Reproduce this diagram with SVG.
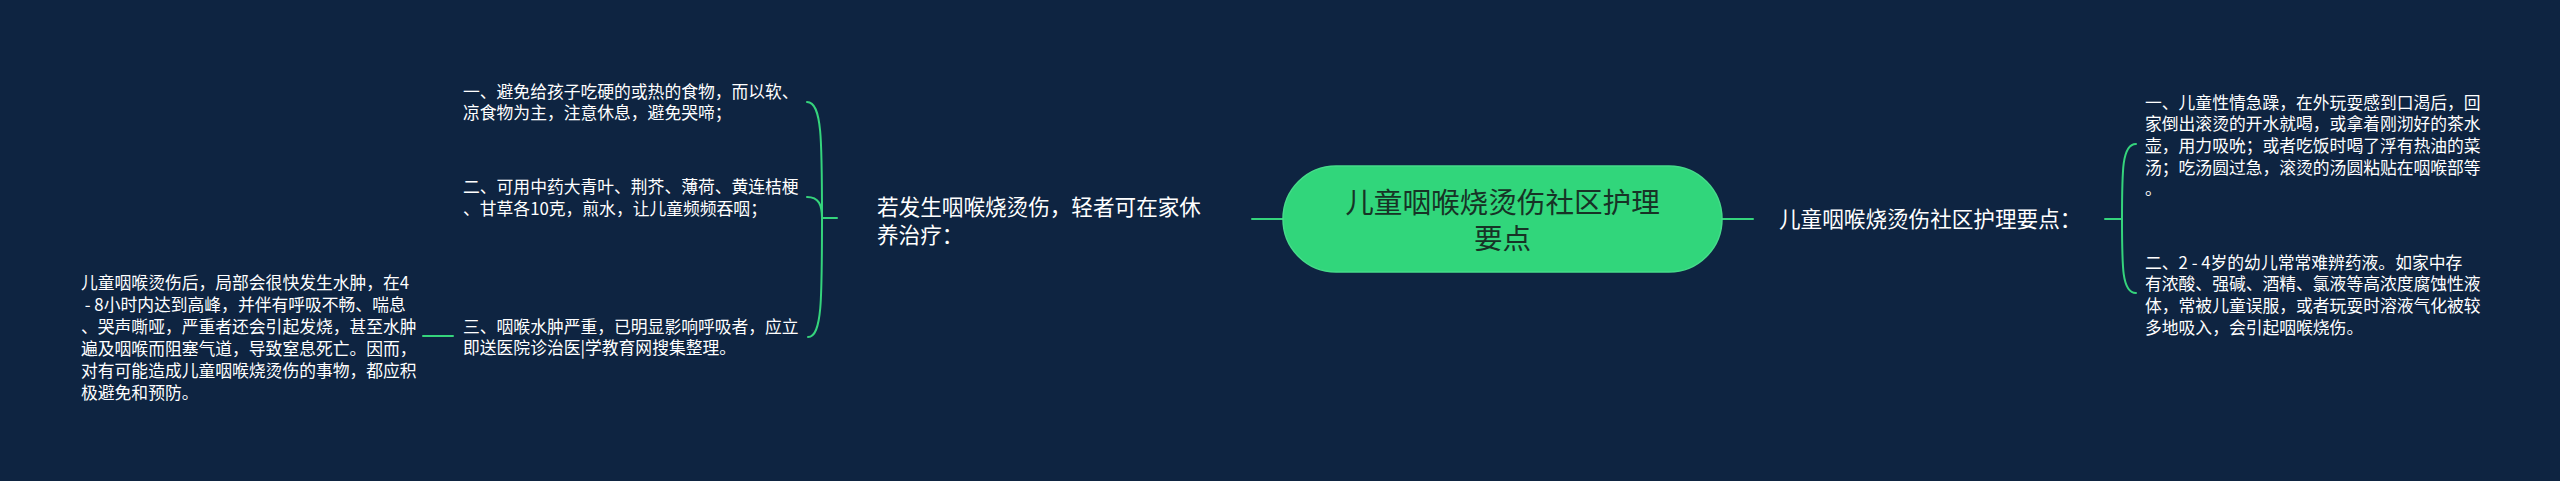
<svg xmlns="http://www.w3.org/2000/svg" width="2560" height="481" viewBox="0 0 2560 481">
<style>
.bg{fill:#0e2441}
.c{fill:none;stroke:#35d47c;stroke-width:2;stroke-linecap:round}
.t{font-family:"Microsoft YaHei","Noto Sans CJK SC","Noto Sans",sans-serif;fill:#ffffff}
.leaf{font-size:16.8px}
.mid{font-size:21.6px}
.main{font-size:28.6px;fill:#173326;text-anchor:middle}
</style>
<rect class="bg" x="0" y="0" width="2560" height="481"/>
<g id="connectors">
<path class="c" d="M1252 219 L1283 219"/>
<path class="c" d="M1722 219 L1753 219"/>
<path class="c" d="M837 218 L822 218"/>
<path class="c" d="M822 218 C822 140 822 102 807 102"/>
<path class="c" d="M822 218 C822 205 819 197 807 197"/>
<path class="c" d="M822 218 C822 300 822 337 808 337"/>
<path class="c" d="M453 336 L423 336"/>
<path class="c" d="M2105 219 L2122 219"/>
<path class="c" d="M2122 219 C2122 170 2122 144 2136 144"/>
<path class="c" d="M2122 219 C2122 268 2122 293 2136 293"/>
</g>
<g id="node-center">
<rect x="1283" y="166" width="439" height="106" rx="53" fill="#31d67b" stroke="#45dc8a" stroke-width="1.5"/>
<text class="t main" x="1502.5" y="213">儿童咽喉烧烫伤社区护理</text>
<text class="t main" x="1502.5" y="249">要点</text>
</g>
<g id="node-left">
<text class="t mid" x="877" y="215">若发生咽喉烧烫伤，轻者可在家休</text>
<text class="t mid" x="877" y="243">养治疗：</text>
</g>
<g id="node-left-1">
<text class="t leaf" x="463" y="98">一、避免给孩子吃硬的或热的食物，而以软、</text>
<text class="t leaf" x="463" y="119">凉食物为主，注意休息，避免哭啼；</text>
</g>
<g id="node-left-2">
<text class="t leaf" x="463" y="193">二、可用中药大青叶、荆芥、薄荷、黄连桔梗</text>
<text class="t leaf" x="463" y="215">、甘草各10克，煎水，让儿童频频吞咽；</text>
</g>
<g id="node-left-3">
<text class="t leaf" x="463" y="333">三、咽喉水肿严重，已明显影响呼吸者，应立</text>
<text class="t leaf" x="463" y="354">即送医院诊治医|学教育网搜集整理。</text>
</g>
<g id="node-left-3-1">
<text class="t leaf" x="81" y="288.5">儿童咽喉烫伤后，局部会很快发生水肿，在4</text>
<text class="t leaf" x="81" y="310.5" xml:space="preserve"> - 8小时内达到高峰，并伴有呼吸不畅、喘息</text>
<text class="t leaf" x="81" y="332.5">、哭声嘶哑，严重者还会引起发烧，甚至水肿</text>
<text class="t leaf" x="81" y="354.5">遍及咽喉而阻塞气道，导致窒息死亡。因而，</text>
<text class="t leaf" x="81" y="376.5">对有可能造成儿童咽喉烧烫伤的事物，都应积</text>
<text class="t leaf" x="81" y="399">极避免和预防。</text>
</g>
<g id="node-right">
<text class="t mid" x="1779" y="227">儿童咽喉烧烫伤社区护理要点：</text>
</g>
<g id="node-right-1">
<text class="t leaf" x="2145" y="108.7">一、儿童性情急躁，在外玩耍感到口渴后，回</text>
<text class="t leaf" x="2145" y="130.4">家倒出滚烫的开水就喝，或拿着刚沏好的茶水</text>
<text class="t leaf" x="2145" y="152">壶，用力吸吮；或者吃饭时喝了浮有热油的菜</text>
<text class="t leaf" x="2145" y="173.5">汤；吃汤圆过急，滚烫的汤圆粘贴在咽喉部等</text>
<text class="t leaf" x="2145" y="195">。</text>
</g>
<g id="node-right-2">
<text class="t leaf" x="2145" y="268.7">二、2 - 4岁的幼儿常常难辨药液。如家中存</text>
<text class="t leaf" x="2145" y="290.4">有浓酸、强碱、酒精、氯液等高浓度腐蚀性液</text>
<text class="t leaf" x="2145" y="312">体，常被儿童误服，或者玩耍时溶液气化被较</text>
<text class="t leaf" x="2145" y="333.5">多地吸入，会引起咽喉烧伤。</text>
</g>
</svg>
